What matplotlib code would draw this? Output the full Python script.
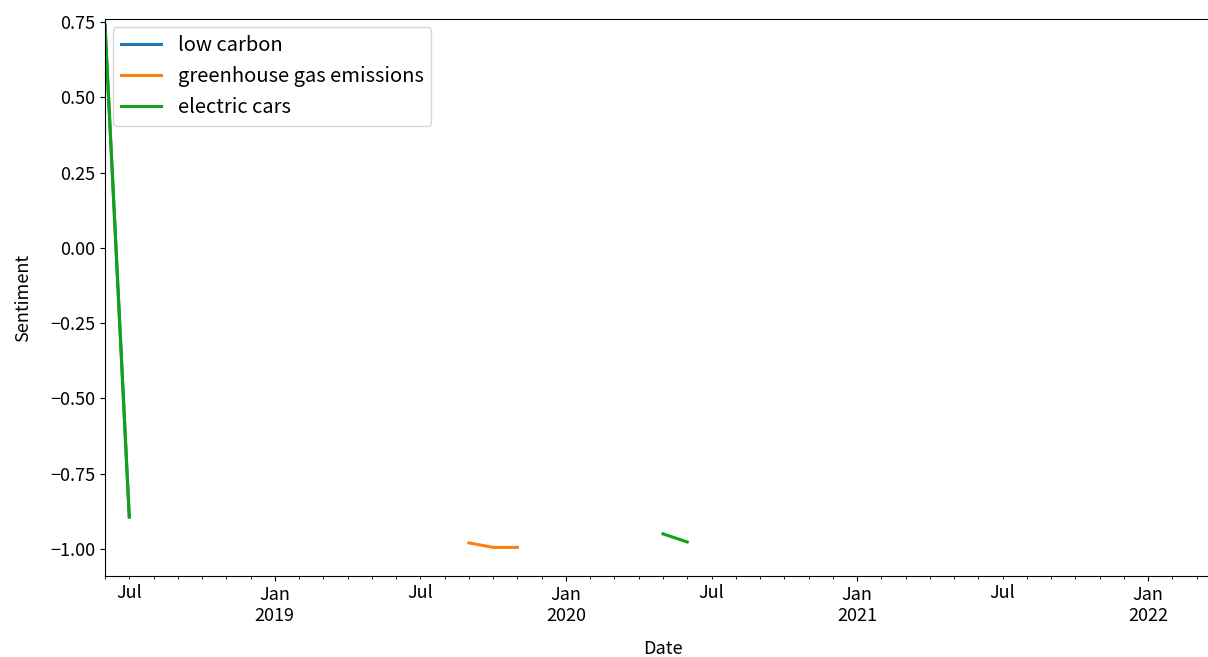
import numpy as np
import pandas as pd
import matplotlib
matplotlib.use("Agg")
import matplotlib.pyplot as plt

plt.rcParams['font.family'] = ['Noto Sans CJK SC', 'DejaVu Sans']
plt.rcParams['font.size'] = 13
plt.rcParams['axes.unicode_minus'] = True

# monthly sentiment, NaN where no articles
months = pd.date_range("2018-06-01", "2022-04-01", freq="MS")

low_carbon_pts = {"2018-06": 0.74, "2018-07": -0.894}
greenhouse_pts = {"2019-09": -0.98, "2019-10": -0.995, "2019-11": -0.995}
electric_pts = {"2018-06": 0.74, "2018-07": -0.894,
                "2020-05": -0.95, "2020-06": -0.977}


def to_series(pts):
    s = pd.Series(np.nan, index=months)
    for k, v in pts.items():
        s[pd.Timestamp(k + "-01")] = v
    return s


df = pd.DataFrame({
    "low carbon": to_series(low_carbon_pts),
    "greenhouse gas emissions": to_series(greenhouse_pts),
    "electric cars": to_series(electric_pts),
}, index=months)

fig = plt.figure(figsize=(12.08, 6.57), dpi=100)
ax = fig.add_axes([105 / 1208, 81 / 657, (1221 - 105) / 1208, 557 / 657])

df.plot(ax=ax, color=["#1f77b4", "#ff7f0e", "#12a312"], linewidth=2.2)

ax.set_ylim(-1.09, 0.76)
ax.set_yticks([-1.0, -0.75, -0.5, -0.25, 0.0, 0.25, 0.5, 0.75])
ax.set_ylabel("Sentiment", labelpad=13)
ax.set_xlabel("Date", labelpad=11)
ax.legend(loc="upper left", fontsize=14.5, handlelength=2.0,
          borderaxespad=0.4)

fig.savefig("out.png", dpi=100)
